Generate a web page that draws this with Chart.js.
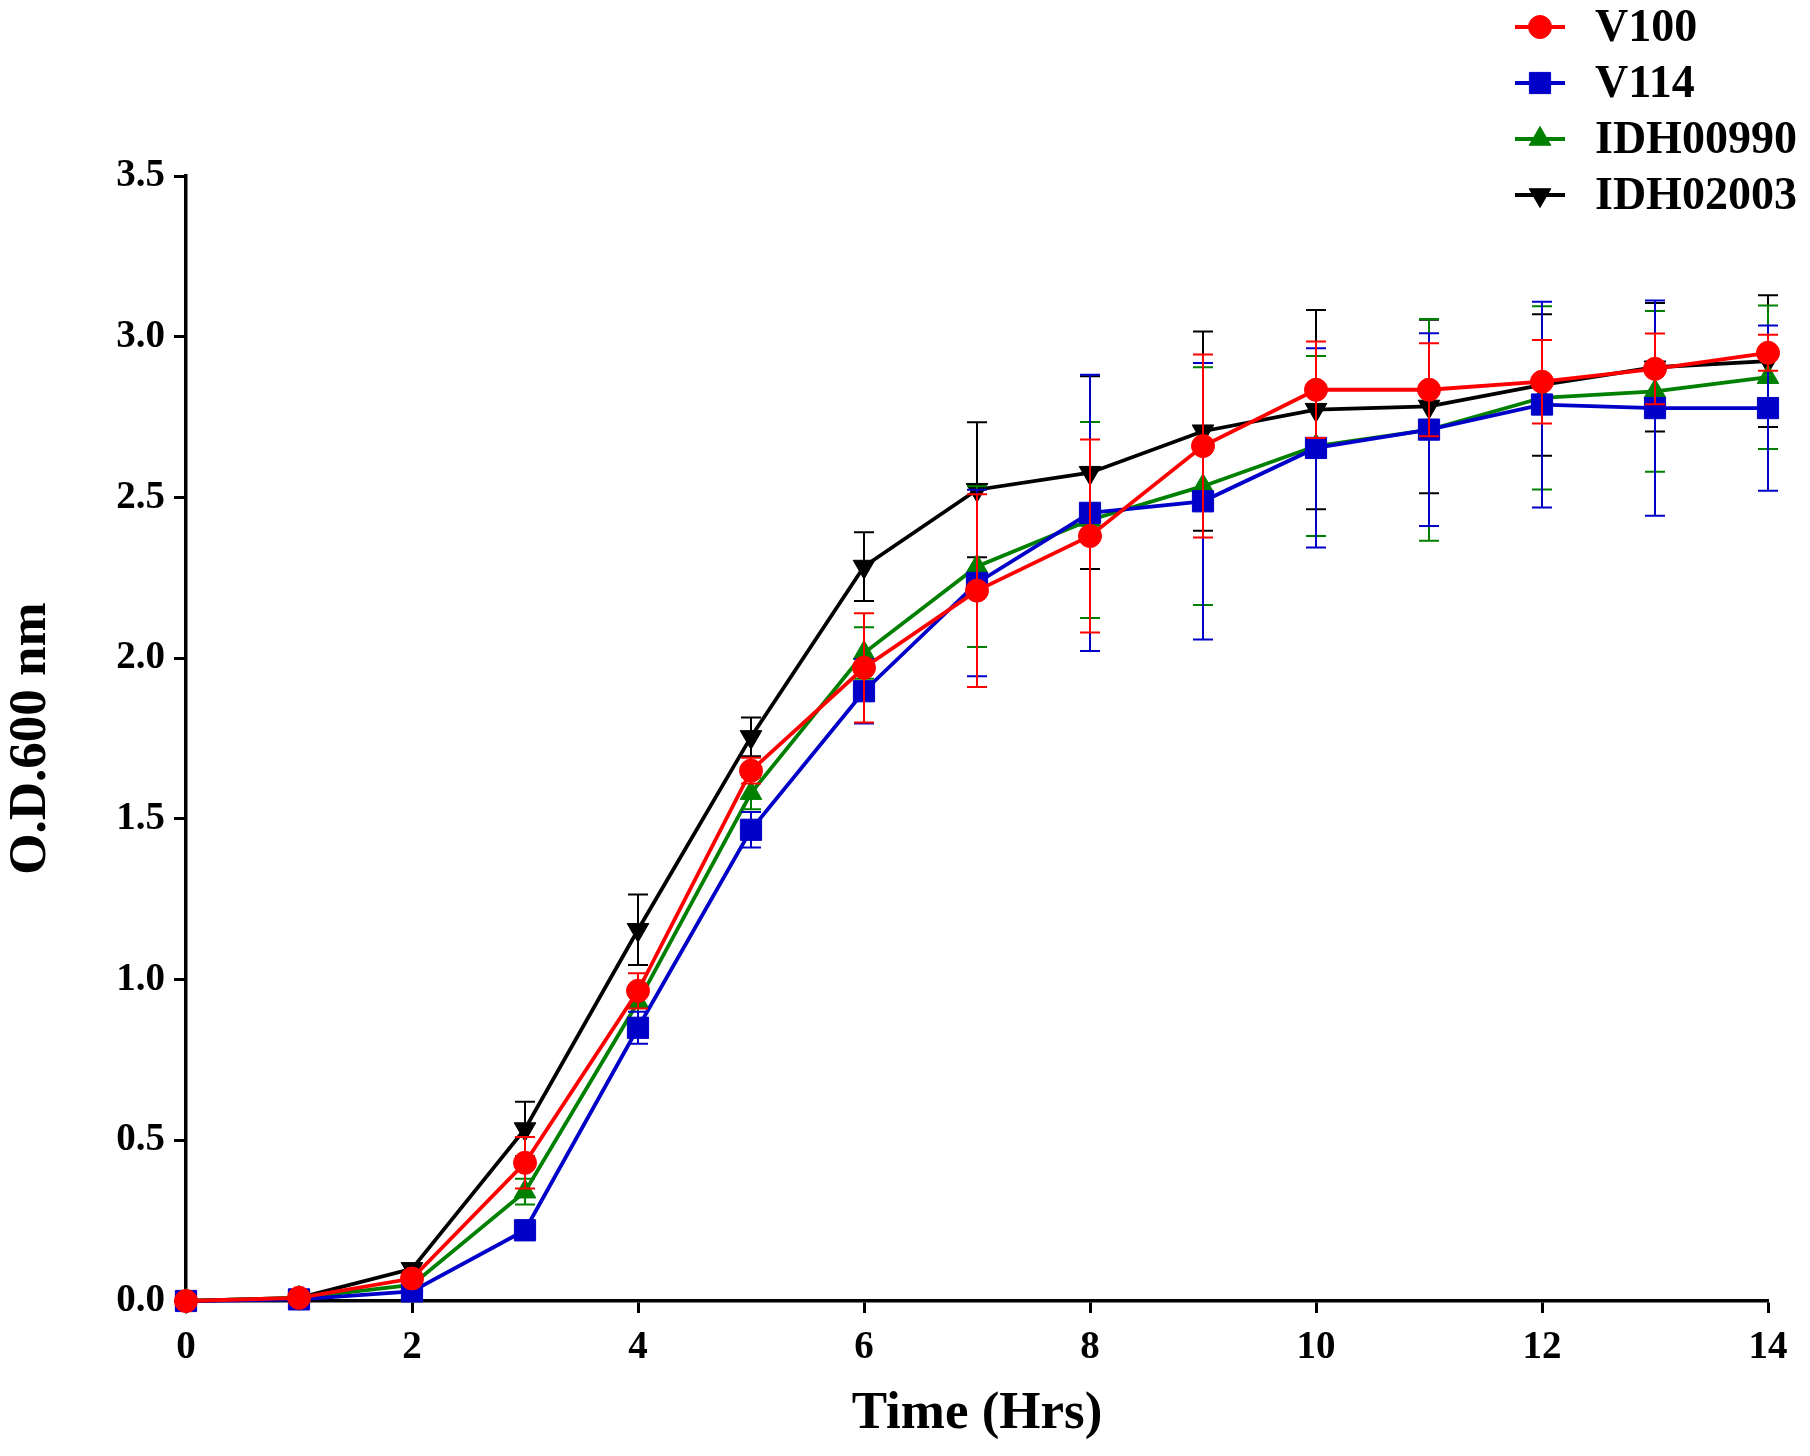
<!DOCTYPE html>
<html>
<head>
<meta charset="utf-8">
<script src="https://cdn.jsdelivr.net/npm/chart.js@4.4.1/dist/chart.umd.min.js"></script>
<style>
html,body{margin:0;padding:0;background:#fff;}
#wrap{width:1810px;height:1456px;}
</style>
</head>
<body>
<div id="wrap"><canvas id="c" width="1810" height="1456"></canvas></div>
<script>
const hours = [0,1,2,3,4,5,6,7,8,9,10,11,12,13,14];
const xTicks = [0,2,4,6,8,10,12,14];
const yTicks = [0,0.5,1,1.5,2,2.5,3,3.5];
const seriesNames = ['V100','V114','IDH00990','IDH02003'];

const v100     = [0,0.01,0.07,0.43,0.965,1.65,1.97,2.21,2.38,2.66,2.835,2.835,2.86,2.90,2.95];
const v100Sd   = [0,0.005,0.015,0.08,0.055,0.04,0.17,0.30,0.30,0.285,0.15,0.145,0.13,0.11,0.056];
const v114     = [0,0.005,0.03,0.22,0.85,1.466,1.897,2.234,2.452,2.488,2.654,2.711,2.789,2.778,2.778];
const v114Sd   = [0,0.005,0.01,0.03,0.05,0.055,0.10,0.29,0.43,0.43,0.31,0.30,0.32,0.335,0.257];
const idh00990   = [0,0.01,0.05,0.34,0.93,1.58,2.016,2.285,2.43,2.535,2.66,2.71,2.81,2.83,2.874];
const idh00990Sd = [0,0.005,0.01,0.04,0.05,0.05,0.08,0.25,0.305,0.37,0.28,0.345,0.285,0.25,0.223];
const idh02003   = [0,0.01,0.10,0.535,1.155,1.755,2.285,2.524,2.577,2.706,2.773,2.783,2.85,2.905,2.924];
const idh02003Sd = [0,0.005,0.015,0.085,0.11,0.06,0.107,0.21,0.30,0.31,0.31,0.27,0.22,0.20,0.205];

const FONT = '"Liberation Serif","Times New Roman",serif';

function pts(vals){ return hours.map((h,i)=>({x:h,y:vals[i]})); }

const errorBars = {
  id:'errorBars',
  beforeDatasetDraw(chart, args){
    const ds = chart.data.datasets[args.index];
    if(!ds.sd) return;
    const xs = chart.scales.x, ys = chart.scales.y, ctx = chart.ctx;
    ctx.save();
    ctx.strokeStyle = ds.borderColor;
    ctx.lineWidth = 2;
    ds.data.forEach((p,i)=>{
      const sd = ds.sd[i];
      if(!sd) return;
      const px = xs.getPixelForValue(p.x);
      const yt = ys.getPixelForValue(p.y+sd);
      const yb = ys.getPixelForValue(p.y-sd);
      ctx.beginPath();
      ctx.moveTo(px,yt); ctx.lineTo(px,yb);
      ctx.moveTo(px-10,yt); ctx.lineTo(px+10,yt);
      ctx.moveTo(px-10,yb); ctx.lineTo(px+10,yb);
      ctx.stroke();
    });
    ctx.restore();
  }
};

const customLegend = {
  id:'customLegend',
  afterDraw(chart, args, opts){
    const ctx = chart.ctx;
    ctx.save();
    chart.data.datasets.forEach((ds,i)=>{
      const y = opts.top + i*opts.rowGap;
      ctx.strokeStyle = ds.borderColor;
      ctx.lineWidth = 4;
      ctx.beginPath();
      ctx.moveTo(opts.lineX0,y); ctx.lineTo(opts.lineX1,y);
      ctx.stroke();
      ctx.fillStyle = ds.backgroundColor;
      ctx.strokeStyle = ds.borderColor;
      ctx.lineWidth = 1;
      Chart.helpers.drawPoint(ctx,{pointStyle:ds.pointStyle,radius:ds.pointRadius,rotation:ds.pointRotation||0,borderWidth:1},(opts.lineX0+opts.lineX1)/2,y);
      ctx.fillStyle = '#000';
      ctx.font = 'bold 46px '+FONT;
      ctx.textBaseline = 'middle';
      ctx.textAlign = 'left';
      ctx.fillText(ds.label, opts.textX, y+2);
    });
    ctx.restore();
  }
};

const colors = ['#ff0000','#0000c8','#008000','#000000'];
const styles = [
  {pointStyle:'circle',pointRadius:11.5,pointRotation:0},
  {pointStyle:'rect',pointRadius:15,pointRotation:0},
  {pointStyle:'triangle',pointRadius:12.5,pointRotation:0},
  {pointStyle:'triangle',pointRadius:12.5,pointRotation:180}
];
const vals = [v100,v114,idh00990,idh02003];
const sds = [v100Sd,v114Sd,idh00990Sd,idh02003Sd];

const datasets = seriesNames.map((name,i)=>({
  label:name,
  data:pts(vals[i]),
  sd:sds[i],
  borderColor:colors[i],
  backgroundColor:colors[i],
  pointBackgroundColor:colors[i],
  pointBorderColor:colors[i],
  pointBorderWidth:1,
  borderWidth:3.8,
  tension:0,
  clip:false,
  pointStyle:styles[i].pointStyle,
  pointRadius:styles[i].pointRadius,
  pointRotation:styles[i].pointRotation
}));

new Chart(document.getElementById('c'),{
  type:'scatter',
  data:{datasets},
  options:{
    responsive:false,
    animation:false,
    devicePixelRatio:1,
    showLine:true,
    layout:{padding:{top:176,right:42,left:0,bottom:0}},
    plugins:{
      legend:{display:false},
      tooltip:{enabled:false},
      customLegend:{top:27,rowGap:56,lineX0:1515,lineX1:1565,textX:1595}
    },
    scales:{
      x:{
        type:'linear',min:0,max:14,
        afterBuildTicks(scale){ scale.ticks = xTicks.map(v=>({value:v})); },
        afterFit(scale){ scale.height = 155; },
        border:{display:true,color:'#000',width:3.5},
        grid:{display:true,drawOnChartArea:false,drawTicks:true,tickLength:12,tickWidth:3,color:'#000'},
        ticks:{color:'#000',padding:12,font:{family:FONT,size:39,weight:'bold'},maxRotation:0,callback:v=>String(v)},
        title:{display:true,text:'Time (Hrs)',color:'#000',font:{family:FONT,size:53,weight:'bold'},padding:{top:0,bottom:10}}
      },
      y:{
        type:'linear',min:0,max:3.5,
        afterBuildTicks(scale){ scale.ticks = yTicks.map(v=>({value:v})); },
        afterFit(scale){ scale.width = 186; },
        border:{display:true,color:'#000',width:3.5},
        grid:{display:true,drawOnChartArea:false,drawTicks:true,tickLength:12,tickWidth:3,color:'#000'},
        ticks:{color:'#000',padding:9,font:{family:FONT,size:39,weight:'bold'},callback:v=>v.toFixed(1)},
        title:{display:true,text:'O.D.600 nm',color:'#000',font:{family:FONT,size:53,weight:'bold'},padding:{top:0,bottom:0}}
      }
    }
  },
  plugins:[errorBars,customLegend]
});
</script>
</body>
</html>
